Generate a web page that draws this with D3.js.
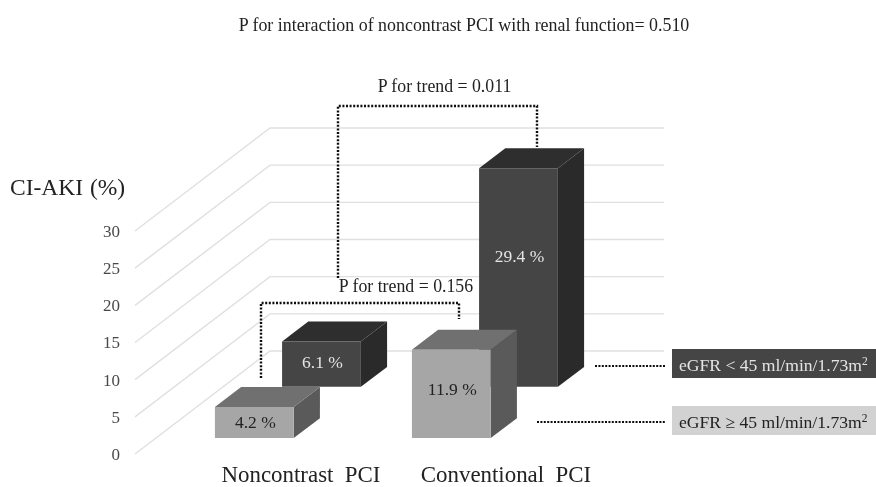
<!DOCTYPE html>
<html>
<head>
<meta charset="utf-8">
<script src="https://cdnjs.cloudflare.com/ajax/libs/d3/7.8.5/d3.min.js"></script>
<style>
    html, body { margin: 0; padding: 0; background: #fff; }
    svg { display: block; }
    text { font-family: "Liberation Serif", serif; }
</style>
</head>
<body>
<div id="chart"></div>
<script>
// values
var categories = ["Noncontrast  PCI", "Conventional  PCI"];
var seriesNames = ["eGFR < 45 ml/min/1.73m", "eGFR \u2265 45 ml/min/1.73m"];
var lowEgfr = [6.1, 29.4];
var highEgfr = [4.2, 11.9];
var yTicks = [0, 5, 10, 15, 20, 25, 30];
var titleText = "P for interaction of noncontrast PCI with renal function= 0.510";
var trendLabels = ["P for trend = 0.011", "P for trend = 0.156"];

var outwidth = 876,
    outheight = 487;

// the back wall of the 3D box, depth runs from it towards the viewer
var wall = { left: 270, right: 664, top: 128, bottom: 351 };
var depthX = -135,
    depthY = 103;

var svg = d3.select("#chart")
    .append("svg")
    .attr("width", outwidth)
    .attr("height", outheight);

var defs = svg.append("defs");
defs.append("filter").attr("id", "soft")
    .append("feGaussianBlur").attr("stdDeviation", 0.4);

var root = svg.append("g").attr("filter", "url(#soft)");

var x = d3.scaleBand()
    .domain(categories)
    .range([wall.left, wall.right])
    .paddingInner(0.6)
    .paddingOuter(0.3);
var y = d3.scaleLinear()
    .domain([0, 30])
    .range([wall.bottom, wall.top]);
var depth = d3.scaleBand()
    .domain(seriesNames)
    .range([0, 1])
    .paddingInner(0.61)
    .paddingOuter(0.31);

// project a point on the wall to its place at depth t
function px(xv, t) { return xv + depthX * t; }
function py(yv, t) { return yv + depthY * t; }
function poly(points) {
    return d3.line()(points.map(p => [px(p[0], p[2]), py(p[1], p[2])])) + "Z";
}

// grid lines: back wall plus the floor-going side wall
root.append("g").selectAll("path")
    .data(yTicks)
    .join("path")
    .attr("fill", "none")
    .attr("stroke", "#e0e0e0")
    .attr("stroke-width", 1.4)
    .attr("d", d => d3.line()([
        [px(wall.left, 1), py(y(d), 1)],
        [wall.left, y(d)],
        [wall.right, y(d)]
    ]));

// y axis sits on the front edge of the side wall
var yAxis = root.append("g")
    .attr("transform", `translate(120,${depthY})`)
    .call(d3.axisLeft(y).tickValues(yTicks).tickSize(0).tickPadding(0));
yAxis.select(".domain").remove();
yAxis.selectAll("text")
    .attr("fill", "#4a4a4a")
    .style("font-family", '"Liberation Serif", serif')
    .style("font-size", "17px");

var styles = [
    { front: "#444444", top: "#2f2f2f", side: "#2a2a2a", label: "#e4e4e4" },
    { front: "#a6a6a6", top: "#6f6f6f", side: "#5a5a5a", label: "#222222" }
];

// labelAt: how far up the front face each value label sits
function drawBars(values, labelAt, name, style) {
    var t0 = depth(name) + depth.bandwidth(),
        t1 = depth(name);
    var g = root.append("g").attr("class", "series");
    var bars = g.selectAll("g")
        .data(values)
        .join("g");
    bars.append("path")
        .attr("fill", style.side)
        .attr("d", (d, i) => {
            var r = x(categories[i]) + x.bandwidth();
            return poly([[r, y(0), t0], [r, y(d), t0], [r, y(d), t1], [r, y(0), t1]]);
        });
    bars.append("path")
        .attr("fill", style.top)
        .attr("d", (d, i) => {
            var l = x(categories[i]), r = l + x.bandwidth();
            return poly([[l, y(d), t0], [r, y(d), t0], [r, y(d), t1], [l, y(d), t1]]);
        });
    bars.append("path")
        .attr("fill", style.front)
        .attr("d", (d, i) => {
            var l = x(categories[i]), r = l + x.bandwidth();
            return poly([[l, y(0), t0], [r, y(0), t0], [r, y(d), t0], [l, y(d), t0]]);
        });
    bars.append("text")
        .attr("text-anchor", "middle")
        .attr("fill", style.label)
        .style("font-size", "17.5px")
        .attr("x", (d, i) => px(x(categories[i]) + x.bandwidth() / 2, t0) + 1)
        .attr("y", (d, i) => py(y(d * labelAt[i]), t0) + 6)
        .text(d => d.toFixed(1) + " %");
}

drawBars(lowEgfr, [0.55, 0.6], seriesNames[0], styles[0]);
drawBars(highEgfr, [0.51, 0.55], seriesNames[1], styles[1]);

// dotted brackets and their p values
var brackets = root.append("g")
    .attr("fill", "none")
    .attr("stroke", "#111")
    .attr("stroke-width", 2.4)
    .attr("stroke-dasharray", "2,1.6");
brackets.append("path").attr("d", "M338,278V106H537V147");
brackets.append("path").attr("d", "M261,378V303H459V319");

root.append("text")
    .attr("x", 444.5).attr("y", 92)
    .attr("text-anchor", "middle")
    .attr("fill", "#222")
    .style("font-size", "17.8px")
    .text(trendLabels[0]);
root.append("text")
    .attr("x", 406).attr("y", 291.5)
    .attr("text-anchor", "middle")
    .attr("fill", "#222")
    .style("font-size", "17.8px")
    .text(trendLabels[1]);

root.append("text")
    .attr("x", 464).attr("y", 30.5)
    .attr("text-anchor", "middle")
    .attr("fill", "#222")
    .style("font-size", "17.9px")
    .text(titleText);

root.append("text")
    .attr("x", 10).attr("y", 194.5)
    .attr("fill", "#222")
    .style("font-size", "23.5px")
    .style("word-spacing", "1px")
    .text("CI-AKI (%)");

// category labels below the floor
var labelX = [301, 506];
root.append("g").selectAll("text")
    .data(categories)
    .join("text")
    .attr("x", (d, i) => labelX[i])
    .attr("y", 481.8)
    .attr("text-anchor", "middle")
    .attr("fill", "#222")
    .style("font-size", "22.9px")
    .style("white-space", "pre")
    .text(d => d);

// legend: dotted leader, box, label with superscript
var legend = [
    { name: seriesNames[0], from: 595, ly: 366, top: 349, fill: "#444444", color: "#e4e4e4" },
    { name: seriesNames[1], from: 537, ly: 422, top: 406, fill: "#d2d2d2", color: "#222222" }
];
legend.forEach(function (l) {
    root.append("line")
        .attr("x1", l.from).attr("x2", 665)
        .attr("y1", l.ly).attr("y2", l.ly)
        .attr("stroke", "#111")
        .attr("stroke-width", 2.2)
        .attr("stroke-dasharray", "2,1.4");
    root.append("rect")
        .attr("x", 672).attr("y", l.top)
        .attr("width", 204).attr("height", 29)
        .attr("fill", l.fill);
    var t = root.append("text")
        .attr("x", 679).attr("y", l.top + 22)
        .attr("fill", l.color)
        .style("font-size", "17.6px")
        .text(l.name);
    t.append("tspan")
        .attr("dy", -6)
        .style("font-size", "11.5px")
        .text("2");
});
</script>
</body>
</html>
